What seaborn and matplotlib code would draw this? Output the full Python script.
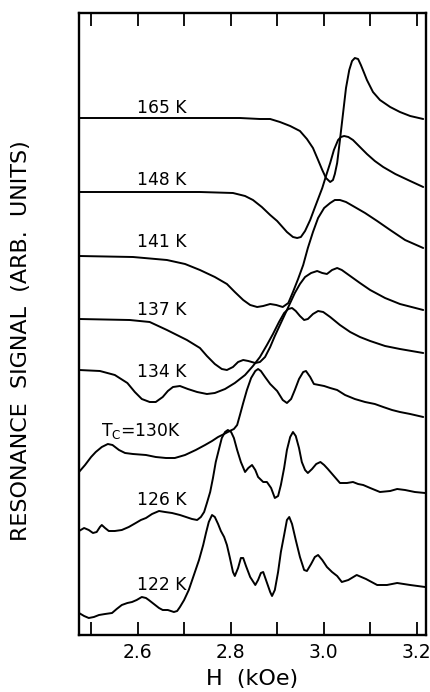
import numpy as np
import pandas as pd
import matplotlib
matplotlib.use("Agg")
import matplotlib.pyplot as plt
import seaborn as sns

# ---- data: field H (kOe) and resonance signal (arb. units) for each temperature ----
H_165 = [2.474, 2.626, 2.734, 2.820, 2.863, 2.885, 2.906, 2.928, 2.949, 2.964, 2.977, 2.988, 2.997, 3.005, 3.014, 3.020, 3.024, 3.029, 3.035, 3.042, 3.048, 3.055, 3.061, 3.067, 3.074, 3.080, 3.087, 3.093, 3.106, 3.121, 3.143, 3.164, 3.186, 3.214]
S_165 = [517, 517, 517, 517, 516, 516, 513, 509, 504, 496, 487, 475, 465, 457, 453, 455, 461, 472, 495, 523, 547, 565, 574, 577, 576, 570, 562, 555, 543, 535, 528, 523, 519, 516]

H_148 = [2.474, 2.734, 2.805, 2.831, 2.848, 2.867, 2.885, 2.900, 2.921, 2.934, 2.943, 2.951, 2.960, 2.971, 2.979, 2.988, 2.997, 3.005, 3.014, 3.022, 3.031, 3.037, 3.044, 3.053, 3.063, 3.078, 3.093, 3.110, 3.128, 3.154, 3.186, 3.214]
S_148 = [443, 443, 442, 439, 435, 428, 420, 414, 403, 398, 397, 398, 404, 415, 425, 436, 447, 459, 472, 485, 495, 498, 499, 498, 495, 488, 481, 474, 468, 461, 454, 448]

H_141 = [2.474, 2.590, 2.663, 2.702, 2.734, 2.766, 2.792, 2.809, 2.827, 2.842, 2.857, 2.870, 2.885, 2.898, 2.912, 2.924, 2.934, 2.945, 2.956, 2.966, 2.977, 2.988, 3.001, 3.014, 3.024, 3.035, 3.048, 3.063, 3.089, 3.115, 3.143, 3.175, 3.214]
S_141 = [379, 378, 375, 371, 365, 358, 351, 343, 335, 330, 328, 329, 331, 330, 328, 332, 343, 356, 370, 387, 403, 417, 427, 432, 435, 435, 433, 429, 422, 414, 405, 395, 387]

H_137 = [2.474, 2.583, 2.626, 2.663, 2.706, 2.734, 2.749, 2.766, 2.781, 2.792, 2.805, 2.816, 2.827, 2.838, 2.853, 2.863, 2.874, 2.885, 2.895, 2.906, 2.917, 2.928, 2.938, 2.949, 2.960, 2.973, 2.986, 2.997, 3.007, 3.018, 3.029, 3.039, 3.057, 3.078, 3.100, 3.132, 3.164, 3.214]
S_137 = [316, 315, 313, 305, 295, 287, 279, 271, 266, 265, 268, 273, 275, 274, 272, 273, 278, 288, 299, 310, 321, 332, 342, 351, 358, 362, 364, 362, 361, 365, 367, 365, 359, 352, 345, 337, 331, 325]

H_134 = [2.474, 2.519, 2.551, 2.578, 2.594, 2.609, 2.626, 2.639, 2.654, 2.665, 2.676, 2.691, 2.708, 2.728, 2.749, 2.766, 2.788, 2.809, 2.831, 2.848, 2.863, 2.878, 2.891, 2.904, 2.915, 2.924, 2.932, 2.940, 2.949, 2.958, 2.966, 2.977, 2.988, 2.999, 3.014, 3.035, 3.057, 3.078, 3.100, 3.132, 3.164, 3.214]
S_134 = [265, 264, 260, 252, 243, 236, 233, 233, 238, 244, 248, 249, 246, 243, 241, 242, 246, 252, 260, 269, 278, 290, 301, 313, 322, 326, 327, 324, 319, 315, 316, 321, 324, 323, 318, 310, 303, 298, 294, 289, 286, 282]

H_130 = [2.474, 2.487, 2.500, 2.510, 2.523, 2.536, 2.546, 2.560, 2.573, 2.590, 2.618, 2.639, 2.661, 2.680, 2.702, 2.725, 2.745, 2.760, 2.773, 2.786, 2.798, 2.807, 2.814, 2.820, 2.827, 2.835, 2.844, 2.853, 2.859, 2.865, 2.874, 2.885, 2.900, 2.912, 2.921, 2.930, 2.938, 2.947, 2.956, 2.962, 2.971, 2.979, 2.990, 3.001, 3.014, 3.029, 3.046, 3.067, 3.089, 3.110, 3.128, 3.147, 3.164, 3.186, 3.214]
S_130 = [163, 170, 178, 183, 188, 191, 190, 185, 182, 181, 180, 178, 177, 177, 180, 185, 190, 194, 198, 201, 204, 206, 210, 220, 232, 245, 257, 264, 266, 264, 258, 251, 244, 235, 232, 236, 245, 256, 263, 264, 258, 251, 250, 249, 247, 245, 240, 236, 233, 231, 228, 225, 223, 221, 218]

H_126 = [2.474, 2.485, 2.495, 2.504, 2.512, 2.519, 2.523, 2.530, 2.538, 2.551, 2.566, 2.581, 2.596, 2.607, 2.618, 2.631, 2.646, 2.659, 2.674, 2.691, 2.704, 2.717, 2.728, 2.736, 2.743, 2.749, 2.756, 2.762, 2.768, 2.775, 2.781, 2.788, 2.794, 2.801, 2.807, 2.814, 2.822, 2.831, 2.838, 2.846, 2.853, 2.859, 2.870, 2.878, 2.887, 2.895, 2.902, 2.908, 2.915, 2.921, 2.928, 2.934, 2.940, 2.947, 2.953, 2.960, 2.966, 2.975, 2.984, 2.993, 3.001, 3.009, 3.022, 3.035, 3.050, 3.063, 3.074, 3.085, 3.100, 3.121, 3.143, 3.158, 3.175, 3.196, 3.218]
S_126 = [104, 107, 105, 102, 103, 108, 110, 107, 104, 104, 105, 108, 112, 115, 117, 121, 124, 123, 122, 120, 118, 116, 115, 118, 123, 132, 143, 157, 173, 186, 197, 203, 205, 203, 197, 185, 173, 163, 167, 170, 165, 158, 153, 153, 147, 137, 139, 150, 167, 185, 198, 203, 199, 187, 173, 165, 162, 166, 171, 173, 170, 166, 159, 152, 152, 153, 151, 150, 147, 143, 144, 146, 145, 143, 142]

H_122 = [2.474, 2.485, 2.495, 2.506, 2.517, 2.530, 2.545, 2.555, 2.566, 2.578, 2.588, 2.598, 2.609, 2.618, 2.624, 2.635, 2.646, 2.654, 2.665, 2.678, 2.685, 2.691, 2.700, 2.710, 2.721, 2.732, 2.741, 2.747, 2.753, 2.760, 2.766, 2.773, 2.779, 2.786, 2.792, 2.798, 2.805, 2.809, 2.816, 2.822, 2.827, 2.833, 2.842, 2.853, 2.859, 2.865, 2.870, 2.876, 2.885, 2.889, 2.895, 2.902, 2.908, 2.915, 2.921, 2.926, 2.932, 2.940, 2.949, 2.958, 2.964, 2.973, 2.981, 2.988, 2.997, 3.007, 3.018, 3.029, 3.039, 3.053, 3.071, 3.091, 3.115, 3.136, 3.158, 3.186, 3.218]
S_122 = [22, 19, 17, 18, 20, 21, 22, 26, 30, 32, 33, 35, 38, 37, 35, 31, 27, 25, 25, 23, 24, 28, 35, 45, 60, 75, 90, 102, 113, 120, 118, 111, 104, 98, 90, 78, 63, 59, 67, 77, 77, 69, 58, 50, 55, 62, 63, 55, 43, 39, 45, 63, 83, 100, 115, 118, 111, 95, 78, 65, 64, 71, 78, 80, 75, 68, 63, 59, 53, 55, 60, 56, 50, 50, 52, 50, 48]

curve_labels = ["165 K", "148 K", "141 K", "137 K", "134 K", r"$\mathrm{T_C}$=130K", "126 K", "122 K"]
H_series = [H_165, H_148, H_141, H_137, H_134, H_130, H_126, H_122]
S_series = [S_165, S_148, S_141, S_137, S_134, S_130, S_126, S_122]

x_ticks = [2.6, 2.8, 3.0, 3.2]
x_tick_labels = ["2.6", "2.8", "3.0", "3.2"]
x_minor = [2.5, 2.7, 2.9, 3.1]

# ---- plotting ----
sns.set_style("white")
plt.rcParams["font.family"] = ["DejaVu Sans"]
plt.rcParams["text.color"] = "black"
plt.rcParams["axes.labelcolor"] = "black"
plt.rcParams["xtick.color"] = "black"
plt.rcParams["mathtext.fontset"] = "dejavusans"

fig = plt.figure(figsize=(4.31, 6.92), dpi=100)
ax = fig.add_axes([79 / 431, 1 - 635 / 692, 347 / 431, 622 / 692])

frames = []
for lab, h, s in zip(curve_labels, H_series, S_series):
    frames.append(pd.DataFrame({"H": h, "S": s, "T": lab}))
df = pd.concat(frames, ignore_index=True)

for lab in curve_labels:
    sub = df[df["T"] == lab]
    sns.lineplot(data=sub, x="H", y="S", sort=False, estimator=None,
                 color="black", lw=1.4, ax=ax, legend=False)

# curve labels (left edge, baseline in data coords)
label_pos = [(2.599, 522), (2.599, 450), (2.599, 388), (2.599, 320),
             (2.599, 258), (2.521, 199), (2.599, 130), (2.599, 45)]
for lab, (lx, ly) in zip(curve_labels, label_pos):
    ax.text(lx, ly, lab, ha="left", va="baseline", fontsize=12.3, color="black")

ax.set_xlim(2.474, 3.22)
ax.set_ylim(0, 622)
ax.set_xticks(x_ticks)
ax.set_xticklabels(x_tick_labels)
ax.set_xticks(x_minor, minor=True)
ax.set_yticks([])
ax.tick_params(axis="x", which="both", direction="in", top=True, bottom=True,
               length=9.5, width=1.3, labelsize=13.5, pad=6, colors="black")
for sp in ax.spines.values():
    sp.set_linewidth(1.7)
    sp.set_color("black")

ax.set_xlabel("H  (kOe)", fontsize=16, labelpad=5, color="black")
ax.set_ylabel("RESONANCE  SIGNAL  (ARB.  UNITS)", fontsize=16, color="black")
ax.yaxis.label.set_va("center")
ax.yaxis.set_label_coords(-0.167, 0.473)

fig.savefig("out.png", dpi=100)
